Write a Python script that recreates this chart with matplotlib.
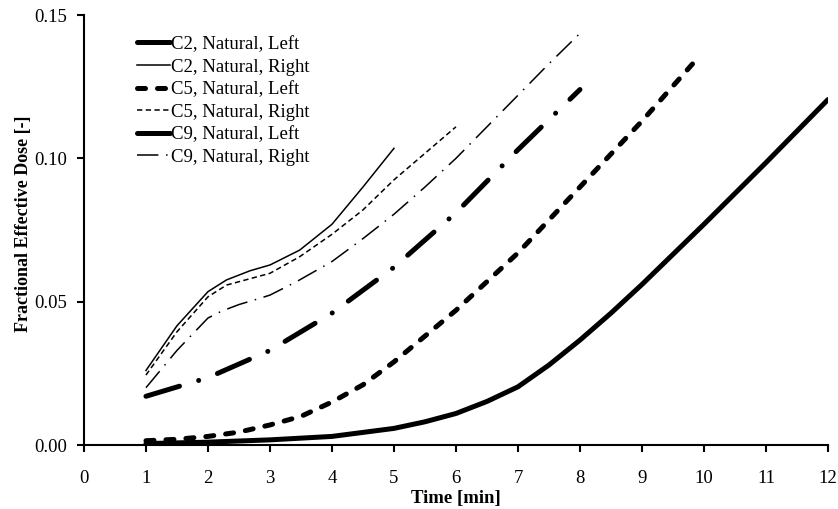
import matplotlib
matplotlib.use("Agg")
import matplotlib.pyplot as plt

plt.rcParams['font.family'] = ['Liberation Serif', 'DejaVu Serif']

# C2
t_c2_left = [1, 2, 3, 4, 5, 5.5, 6, 6.5, 7, 7.5, 8, 8.5, 9, 10, 11, 12]
c2_left = [0.0005, 0.001, 0.0018, 0.003, 0.0058, 0.0081, 0.011, 0.0152, 0.0203,
           0.0279, 0.0366, 0.046, 0.056, 0.077, 0.0985, 0.1205]
t_c2_right = [1, 1.5, 2, 2.3, 2.68, 3, 3.48, 4, 4.5, 5]
c2_right = [0.026, 0.0416, 0.0535, 0.0576, 0.0608, 0.0628, 0.068, 0.077, 0.090, 0.1035]

# C5
t_c5_left = [1, 1.5, 2, 2.5, 3, 3.5, 4, 4.5, 5, 6, 7, 8, 9, 9.9]
c5_left = [0.0015, 0.002, 0.003, 0.0045, 0.007, 0.010, 0.015, 0.021, 0.029,
           0.047, 0.067, 0.090, 0.113, 0.135]
t_c5_right = [1, 1.5, 2, 2.3, 3, 3.48, 4, 4.5, 5, 6]
c5_right = [0.0244, 0.0395, 0.0517, 0.0558, 0.0599, 0.0657, 0.0735, 0.082, 0.0925, 0.111]

# C9
t_c9_left = [1, 2, 3, 4, 5, 6, 7, 8]
c9_left = [0.017, 0.0235, 0.033, 0.046, 0.062, 0.081, 0.103, 0.124]
t_c9_right = [1, 1.5, 2, 2.22, 2.5, 2.84, 3, 3.43, 4, 4.5, 5, 5.5, 6, 6.5, 7, 7.5, 8]
c9_right = [0.020, 0.033, 0.0443, 0.0467, 0.049, 0.0512, 0.0523, 0.057, 0.064, 0.072,
            0.0805, 0.090, 0.100, 0.111, 0.122, 0.133, 0.1436]

fig = plt.figure(figsize=(8.38, 5.09), dpi=100)
ax = fig.add_axes([0.1002, 0.1257, 0.8878, 0.8448])

thick = 3.6
thin = 1.1
ax.plot(t_c2_left, c2_left, color='black', lw=thick, solid_capstyle='round',
        solid_joinstyle='round', label="C2, Natural, Left")
ax.plot(t_c2_right, c2_right, color='black', lw=thin, label="C2, Natural, Right")
ax.plot(t_c5_left, c5_left, color='black', lw=thick, linestyle=(0, (1.6, 2.4)),
        dash_capstyle='round', label="C5, Natural, Left")
ax.plot(t_c5_right, c5_right, color='black', lw=thin, linestyle=(0, (3.5, 2.2)),
        label="C5, Natural, Right")
ax.plot(t_c9_left, c9_left, color='black', lw=thick,
        linestyle=(0, (7, 4, 0.01, 4)), dash_capstyle='round',
        label="C9, Natural, Left")
ax.plot(t_c9_right, c9_right, color='black', lw=thin,
        linestyle=(0, (14, 5, 1, 5)), label="C9, Natural, Right")

ax.set_xlim(0, 12)
ax.set_ylim(0, 0.15)
ax.set_xticks(range(0, 13))
ax.set_yticks([0, 0.05, 0.10, 0.15])
ax.set_yticklabels(["0.00", "0.05", "0.10", "0.15"])
for side in ['top', 'right']:
    ax.spines[side].set_visible(False)
for side in ['left', 'bottom']:
    ax.spines[side].set_linewidth(1.5)
ax.tick_params(direction='out', length=5, width=1.5, labelsize=13.5)
ax.tick_params(axis='y', pad=7)
ax.tick_params(axis='x', pad=13)

ax.set_xlabel("Time [min]", fontsize=13.5, fontweight='bold', labelpad=2.5)
ax.set_ylabel("Fractional Effective Dose [-]", fontsize=13, fontweight='bold')
ax.yaxis.set_label_coords(-0.070, 0.514)

ax.legend(loc='upper left', bbox_to_anchor=(0.0612, 0.969), frameon=False,
          fontsize=13.5, handlelength=1.76, handletextpad=0.05, labelspacing=0.29,
          borderaxespad=0)

fig.savefig("out.png", dpi=100)
